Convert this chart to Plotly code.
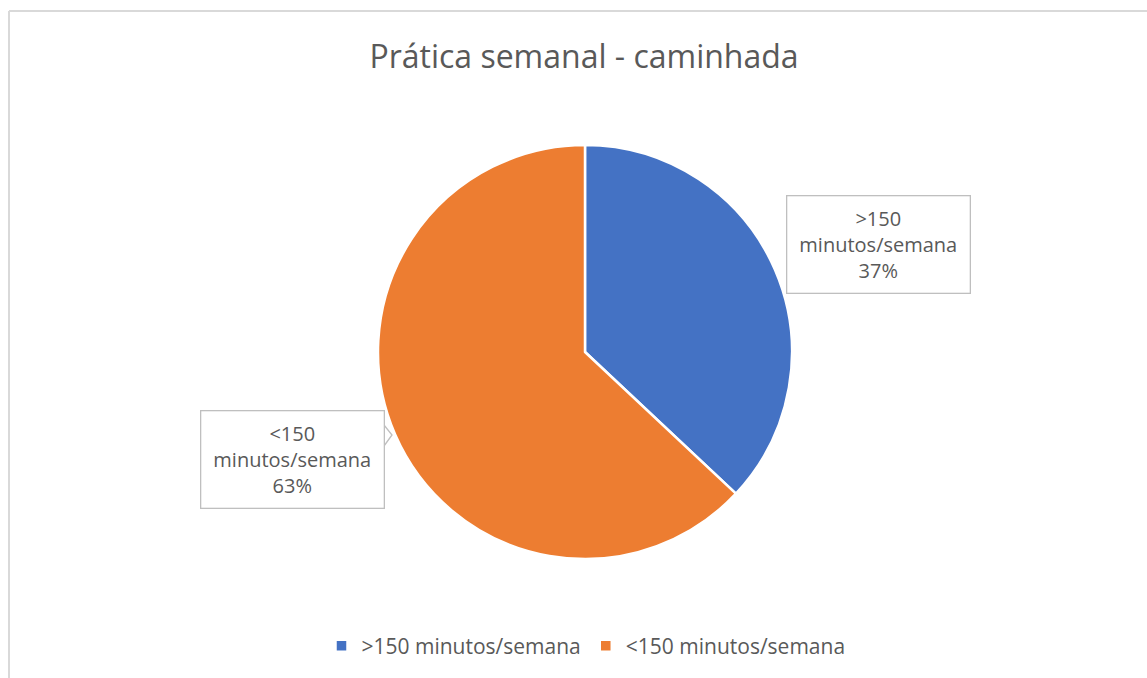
import plotly.graph_objects as go

W, H = 1147, 678

categories = [">150 minutos/semana", "<150 minutos/semana"]
values = [37, 63]
colors = ["#4472C4", "#ED7D31"]
title_text = "Prática semanal - caminhada"

FONT = "Open Sans"
GREY = "#595959"

def px_x(x):
    return x / W

def px_y(y):
    return 1 - y / H

cx, cy, r = 585, 352, 207

fig = go.Figure(go.Pie(
    labels=categories,
    values=values,
    marker=dict(colors=colors, line=dict(color="white", width=2.5)),
    sort=False,
    direction="clockwise",
    rotation=0,
    textinfo="none",
    hoverinfo="label+percent",
    domain=dict(x=[px_x(cx - r), px_x(cx + r)], y=[px_y(cy + r), px_y(cy - r)]),
))

total = sum(values)
label_boxes = [(878.5, 244.5), (292, 459.5)]
annotations = []
for (bx, by), cat, v in zip(label_boxes, categories, values):
    pct = round(100 * v / total)
    head, tail = cat.split(" ", 1)
    annotations.append(dict(
        x=px_x(bx), y=px_y(by), xref="paper", yref="paper",
        xanchor="center", yanchor="middle",
        text=f"{head}<br>{tail}<br>{pct}%",
        showarrow=False,
        font=dict(family=FONT, size=20, color=GREY),
        align="center",
        bgcolor="white",
        bordercolor="#BFBFBF", borderwidth=1.3, borderpad=4,
        width=174, height=88,
    ))

shapes = [
    # chart area border (top and left visible)
    dict(type="line", xref="paper", yref="paper",
         x0=px_x(9), y0=px_y(11), x1=1.01, y1=px_y(11),
         line=dict(color="#D9D9D9", width=2)),
    dict(type="line", xref="paper", yref="paper",
         x0=px_x(9), y0=px_y(11), x1=px_x(9), y1=-0.01,
         line=dict(color="#D9D9D9", width=2)),
    # callout pointer of the lower label box
    dict(type="path", xref="paper", yref="paper",
         path=f"M {px_x(384)} {px_y(425)} L {px_x(392)} {px_y(435)} L {px_x(384)} {px_y(446)}",
         line=dict(color="#BFBFBF", width=1.3), fillcolor="white"),
]

fig.update_layout(
    width=W, height=H,
    margin=dict(l=0, r=0, t=0, b=0),
    paper_bgcolor="white",
    plot_bgcolor="white",
    title=dict(text=title_text, x=px_x(584), xanchor="center",
               y=px_y(57), yanchor="middle",
               font=dict(family=FONT, size=32, color=GREY)),
    showlegend=True,
    legend=dict(orientation="h", x=px_x(586), xanchor="center",
                y=px_y(646), yanchor="middle",
                font=dict(family=FONT, size=21, color=GREY),
                itemwidth=30, tracegroupgap=0),
    annotations=annotations,
    shapes=shapes,
)

fig.write_html(
    "out.html",
    config={"displayModeBar": False},
    post_script="document.body.style.margin='0';document.body.style.overflow='hidden';",
)
